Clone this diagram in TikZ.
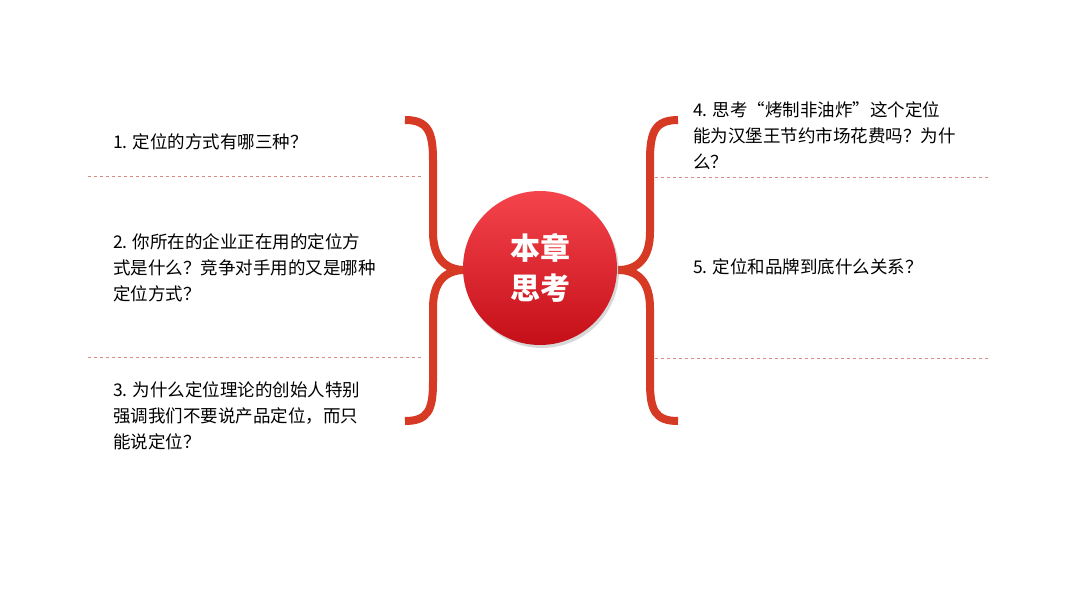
\documentclass[tikz,border=0pt]{standalone}
\usepackage{fontspec}
\setmainfont{Noto Sans CJK SC}
\usetikzlibrary{shadows}
\definecolor{brc}{HTML}{D63A25}
\definecolor{dsh}{HTML}{D98A80}
\definecolor{ctop}{HTML}{F5444C}
\definecolor{cbot}{HTML}{C50F18}
\begin{document}
\begin{tikzpicture}[x=1pt,y=-1pt,
  brace/.style={draw=brc,line width=8pt,line cap=butt},
  sep/.style={draw=dsh,dashed,line width=0.8pt},
  txt/.style={anchor=north west,align=left,font=\fontsize{17.5}{26}\selectfont,inner sep=0pt}]
\useasboundingbox[fill=white] (0,0) rectangle (1080,608);
% left brace
\draw[brace] (405,120) .. controls (428,120) and (433,132) .. (433,160) -- (433,232)
  .. controls (433,258) and (445,270) .. (465,270)
  .. controls (445,270) and (433,282) .. (433,308) -- (433,382)
  .. controls (433,410) and (428,421) .. (405,421);
% right brace
\draw[brace] (678,120) .. controls (655,120) and (650,132) .. (650,160) -- (650,232)
  .. controls (650,258) and (638,270) .. (618,270)
  .. controls (638,270) and (650,282) .. (650,308) -- (650,382)
  .. controls (650,410) and (655,421) .. (678,421);
% dashed separators
\coordinate (l1a) at (88,176); \coordinate (l1b) at (422,176);
\coordinate (l2a) at (88,357); \coordinate (l2b) at (422,357);
\coordinate (r1a) at (655,177); \coordinate (r1b) at (990,177);
\coordinate (r2a) at (655,358); \coordinate (r2b) at (990,358);
\draw[sep] (l1a) -- (l1b); \draw[sep] (l2a) -- (l2b);
\draw[sep] (r1a) -- (r1b); \draw[sep] (r2a) -- (r2b);
% centre
\node[circle,minimum size=154pt,inner sep=0pt,top color=ctop,bottom color=cbot,
  drop shadow={shadow xshift=2pt,shadow yshift=-3pt,opacity=0.3},
  text=white,align=center,font=\fontsize{30}{40}\selectfont\bfseries] (c) at (540,268) {本章\\思考};
% texts
\node[txt] (t1) at (113,133) {1. 定位的方式有哪三种？};
\node[txt] (t2) at (113,233) {2. 你所在的企业正在用的定位方\\式是什么？竞争对手用的又是哪种\\定位方式？};
\node[txt] (t3) at (113,381) {3. 为什么定位理论的创始人特别\\强调我们不要说产品定位，而只\\能说定位？};
\node[txt] (t4) at (693,101) {4. 思考“烤制非油炸”这个定位\\能为汉堡王节约市场花费吗？为什\\么？};
\node[txt] (t5) at (693,258) {5. 定位和品牌到底什么关系？};
\end{tikzpicture}
\end{document}
